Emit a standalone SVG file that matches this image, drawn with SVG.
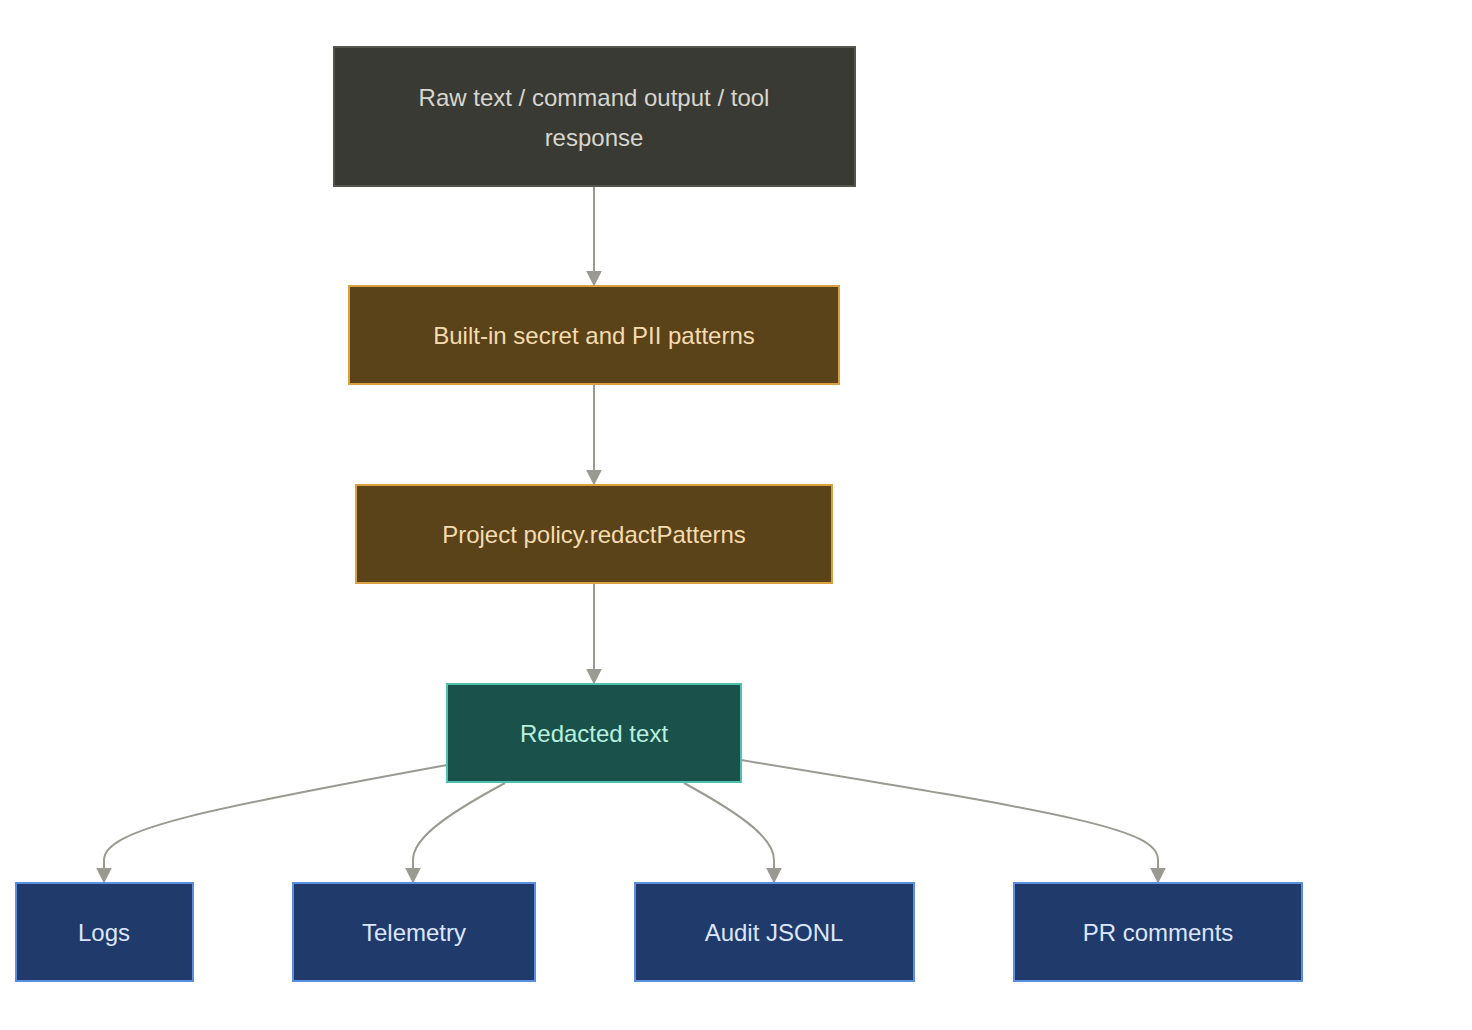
<svg xmlns="http://www.w3.org/2000/svg" width="1472" height="1030" viewBox="0 0 1472 1030">
<style>
text{font-family:"Liberation Sans",Arial,sans-serif;font-size:24px;text-anchor:middle;dominant-baseline:central}
.e{fill:none;stroke:#9a9a92;stroke-width:2;marker-end:url(#a)}
.raw rect{fill:#3a3a35;stroke:#55554f;stroke-width:2}.raw text{fill:#d6d6ce}
.pat rect{fill:#5a4219;stroke:#d9a040;stroke-width:2}.pat text{fill:#f5dcb0}
.red rect{fill:#1a524b;stroke:#4fc1b0;stroke-width:2}.red text{fill:#b8f0de}
.out rect{fill:#1f3a6b;stroke:#5b8ee0;stroke-width:2}.out text{fill:#dde6ff}
</style>
<defs><marker id="a" viewBox="0 0 10 10" refX="9" refY="5" markerWidth="8" markerHeight="8" orient="auto"><path d="M0,0L10,5L0,10z" fill="#9a9a92"/></marker></defs>
<rect width="1472" height="1030" fill="#fff"/>
<g id="connectors">
<path class="e" d="M594,186V285"/>
<path class="e" d="M594,384V484"/>
<path class="e" d="M594,583V683"/>
<path class="e" d="M447,765C200,810 104,830 104,860V882"/>
<path class="e" d="M505,783C440,818 413,840 413,860V882"/>
<path class="e" d="M684,783C748,818 774,840 774,860V882"/>
<path class="e" d="M741,760C1080,815 1158,830 1158,860V882"/>
</g>
<g id="raw" class="raw"><rect x="334" y="47" width="521" height="139"/><text x="594" y="97">Raw text / command output / tool</text><text x="594" y="137">response</text></g>
<g id="builtin" class="pat"><rect x="349" y="286" width="490" height="98"/><text x="594" y="335">Built-in secret and PII patterns</text></g>
<g id="project" class="pat"><rect x="356" y="485" width="476" height="98"/><text x="594" y="534">Project policy.redactPatterns</text></g>
<g id="redacted" class="red"><rect x="447" y="684" width="294" height="98"/><text x="594" y="733">Redacted text</text></g>
<g id="logs" class="out"><rect x="16" y="883" width="177" height="98"/><text x="104" y="932">Logs</text></g>
<g id="telemetry" class="out"><rect x="293" y="883" width="242" height="98"/><text x="414" y="932">Telemetry</text></g>
<g id="audit" class="out"><rect x="635" y="883" width="279" height="98"/><text x="774" y="932">Audit JSONL</text></g>
<g id="pr" class="out"><rect x="1014" y="883" width="288" height="98"/><text x="1158" y="932">PR comments</text></g>
</svg>
